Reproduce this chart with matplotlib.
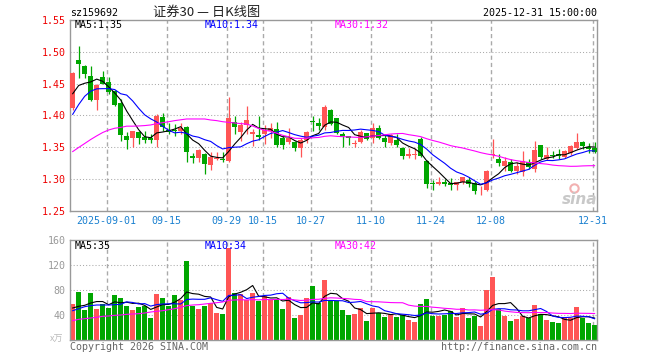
import matplotlib
matplotlib.use('Agg')
import matplotlib.pyplot as plt
import numpy as np
import pandas as pd

# trading days on the chart (national day holiday 10-01..10-08 removed)
days = pd.bdate_range('2025-08-22', '2025-12-31')
days = days[(days < '2025-10-01') | (days > '2025-10-08')]

opens = [1.411, 1.4875, 1.478, 1.4625, 1.424, 1.461, 1.452, 1.439, 1.420, 1.367,
         1.364, 1.374, 1.366, 1.3646, 1.3615, 1.398, 1.3776, 1.3776, 1.3755, 1.382,
         1.336, 1.333, 1.339, 1.322, 1.332, 1.332, 1.3286, 1.390, 1.374, 1.385,
         1.370, 1.3685, 1.3714, 1.3755, 1.378, 1.3646, 1.3573, 1.3583, 1.349, 1.361,
         1.3911, 1.3875, 1.382, 1.409, 1.3953, 1.3714, 1.3672, 1.3547, 1.3588, 1.3719,
         1.3651, 1.3807, 1.364, 1.3563, 1.361, 1.3484, 1.3365, 1.3375, 1.3625, 1.3286,
         1.293, 1.2922, 1.2958, 1.2932, 1.2911, 1.2948, 1.299, 1.2937, 1.2823, 1.2818,
         1.338, 1.3313, 1.3208, 1.326, 1.313, 1.3115, 1.327, 1.3156, 1.3531, 1.3313,
         1.338, 1.339, 1.3349, 1.3401, 1.3479, 1.3583, 1.3495, 1.3479]
highs = [1.468, 1.509, 1.479, 1.477, 1.449, 1.470, 1.461, 1.440, 1.425, 1.374,
         1.376, 1.376, 1.376, 1.370, 1.402, 1.403, 1.3885, 1.387, 1.3885, 1.383,
         1.341, 1.347, 1.340, 1.342, 1.342, 1.342, 1.4286, 1.399, 1.390, 1.4146,
         1.378, 1.399, 1.385, 1.3885, 1.390, 1.3677, 1.3797, 1.360, 1.365, 1.3755,
         1.399, 1.3953, 1.417, 1.4104, 1.3964, 1.374, 1.3677, 1.361, 1.3766, 1.372,
         1.3885, 1.3844, 1.3714, 1.3703, 1.3703, 1.3495, 1.348, 1.348, 1.366, 1.329,
         1.2984, 1.3026, 1.3005, 1.301, 1.295, 1.3036, 1.3036, 1.2974, 1.2896, 1.314,
         1.3625, 1.339, 1.3339, 1.3313, 1.326, 1.3432, 1.3313, 1.3589, 1.3531, 1.3495,
         1.3432, 1.347, 1.3453, 1.3531, 1.3719, 1.360, 1.3563, 1.3573]
lows = [1.408, 1.459, 1.459, 1.422, 1.408, 1.449, 1.433, 1.415, 1.360, 1.347,
        1.350, 1.355, 1.357, 1.356, 1.350, 1.376, 1.370, 1.367, 1.371, 1.327,
        1.325, 1.327, 1.308, 1.314, 1.329, 1.326, 1.326, 1.371, 1.359, 1.370,
        1.352, 1.361, 1.355, 1.365, 1.3495, 1.347, 1.3547, 1.344, 1.335, 1.357,
        1.3755, 1.377, 1.3766, 1.385, 1.371, 1.3495, 1.353, 1.3505, 1.356, 1.361,
        1.357, 1.3625, 1.3495, 1.3536, 1.3495, 1.3313, 1.333, 1.3313, 1.335, 1.286,
        1.2828, 1.2906, 1.2896, 1.2828, 1.283, 1.2922, 1.288, 1.2755, 1.274, 1.2807,
        1.3328, 1.3208, 1.313, 1.3104, 1.3078, 1.305, 1.3156, 1.3104, 1.3313, 1.3297,
        1.3328, 1.3313, 1.3328, 1.338, 1.3469, 1.3469, 1.3406, 1.340]
closes = [1.467, 1.481, 1.465, 1.424, 1.448, 1.450, 1.437, 1.417, 1.369, 1.361,
          1.375, 1.365, 1.362, 1.361, 1.399, 1.382, 1.3745, 1.3755, 1.380, 1.3425,
          1.333, 1.346, 1.3235, 1.334, 1.333, 1.329, 1.396, 1.382, 1.385, 1.392,
          1.374, 1.3667, 1.377, 1.3807, 1.3536, 1.3536, 1.3651, 1.349, 1.361, 1.3745,
          1.390, 1.383, 1.4135, 1.387, 1.3724, 1.3677, 1.364, 1.3568, 1.3745, 1.3635,
          1.3807, 1.364, 1.3588, 1.3693, 1.3536, 1.3365, 1.339, 1.339, 1.3365, 1.2922,
          1.292, 1.2958, 1.2922, 1.2911, 1.2948, 1.3026, 1.2922, 1.2807, 1.2828, 1.313,
          1.339, 1.325, 1.3286, 1.313, 1.3208, 1.3286, 1.3182, 1.3453, 1.3349, 1.338,
          1.336, 1.3365, 1.3443, 1.3521, 1.3573, 1.352, 1.3474, 1.3417]
# volume, 10k lots
volumes = [57.6, 76.8, 48.5, 75.2, 49.6, 57.6, 51.2, 72, 67.2, 54.4,
           48, 52.8, 54.4, 35.2, 73.6, 67.2, 54.4, 72, 64, 126.4,
           54.4, 49.6, 54.4, 59.2, 43.2, 41.6, 148, 75.2, 73.6, 64,
           75.2, 62.4, 70.4, 64, 65.6, 49.6, 68.8, 35.2, 40, 67.2,
           86.4, 60, 96, 64, 62.4, 48, 40, 41.6, 51.2, 30.4,
           51.2, 43.2, 36.8, 41.6, 36.8, 40, 32, 28.8, 57.6, 65.6,
           38.4, 38.4, 40, 46.4, 36.8, 51.2, 35.2, 38.4, 22.4, 80,
           100.8, 49.6, 38.4, 30.4, 33.6, 38.4, 35.2, 56, 41.6, 32,
           28.8, 27.2, 35.2, 35.2, 52.8, 35.2, 28, 24]

ma5_head = [1.434, 1.447, 1.4505, 1.4526]
ma10_head = [1.4016, 1.417, 1.430, 1.438, 1.4417, 1.442, 1.442, 1.4406, 1.434]
ma30_head = [1.343, 1.3495, 1.3557, 1.362, 1.3677, 1.373, 1.377, 1.3797, 1.381, 1.383,
             1.383, 1.3833, 1.3839, 1.3849, 1.387, 1.3885, 1.390, 1.3917, 1.393, 1.3943,
             1.3943, 1.3943, 1.3943, 1.3927, 1.3917, 1.390, 1.389, 1.388, 1.387]
vma5_head = [51.2, 53.9, 55.5, 59.2]
vma10_head = [46.9, 50.1, 53.3, 55, 56, 56, 56, 56.5, 57.1]
vma30_head = [30.9, 33.1, 34.1, 35.2, 36.3, 37.9, 38.4, 39.5, 40, 41.1,
              41.6, 42.1, 43.2, 44.8, 45.9, 46.9, 48.5, 50.1, 52.3, 55,
              56, 56.5, 57.6, 58.7, 59.7, 60.8, 63.5, 64, 64.5]

tick_dates = ['2025-09-01', '2025-09-15', '2025-09-29', '2025-10-15', '2025-10-27',
              '2025-11-10', '2025-11-24', '2025-12-08', '2025-12-31']
tick_labels = ['2025-09-01', '09-15', '09-29', '10-15', '10-27',
               '11-10', '11-24', '12-08', '12-31']

RED = '#ff5555'
GREEN = '#00a600'
GRID = '#aaaaaa'
MONO = 'DejaVu Sans Mono'
W, H = 660, 360


def moving_avg(values, n, head):
    m = pd.Series(values).rolling(n).mean().values
    m[:n - 1] = head
    return m


def fig_xy(x, y):
    # pixel position -> figure fraction
    return x / W, 1 - y / H


x = np.arange(len(closes))
o = np.array(opens); c = np.array(closes)
up = c >= o
colors = [RED if u else GREEN for u in up]
tick_pos = [list(days.strftime('%Y-%m-%d')).index(d) - 0.35 for d in tick_dates]

ma5 = moving_avg(closes, 5, ma5_head)
ma10 = moving_avg(closes, 10, ma10_head)
ma30 = moving_avg(closes, 30, ma30_head)
vma5 = moving_avg(volumes, 5, vma5_head)
vma10 = moving_avg(volumes, 10, vma10_head)
vma30 = moving_avg(volumes, 30, vma30_head)

fig = plt.figure(figsize=(6.6, 3.6), dpi=100)
left, right = 70.3, 597
ax = fig.add_axes([left / W, 1 - 210.7 / H, (right - left) / W, 190.7 / H])
axv = fig.add_axes([left / W, 1 - 340 / H, (right - left) / W, 100 / H])

for a in (ax, axv):
    a.set_xlim(-0.4, 87.4)
    for s in a.spines.values():
        s.set_color('#999999')
        s.set_linewidth(1.0)
    for p in tick_pos:
        a.axvline(p, color=GRID, lw=1.0, ls=(0, (3, 2.2)), zorder=0)
    a.tick_params(length=0)

# candles
ax.vlines(x, lows, highs, colors=colors, lw=0.9, zorder=2)
bodies = np.maximum(np.abs(c - o), 0.0009)
ax.bar(x, bodies, bottom=np.minimum(o, c), width=0.8, color=colors, lw=0, zorder=3)
ax.plot(x, ma5, color='black', lw=0.8, zorder=4)
ax.plot(x, ma10, color='#0000ff', lw=0.8, zorder=4)
ax.plot(x, ma30, color='#ff00ff', lw=0.8, zorder=4)
ax.set_ylim(1.25, 1.55)
for lv in [1.30, 1.35, 1.40, 1.45, 1.50]:
    ax.axhline(lv, color=GRID, lw=0.75, ls=(0, (1, 2)), zorder=0)
ax.set_yticks([1.25, 1.30, 1.35, 1.40, 1.45, 1.50, 1.55])
ax.set_yticklabels(['%.2f' % v for v in ax.get_yticks()], color='#ee0000',
                   fontsize=7.2, family=MONO)
ax.tick_params(axis='y', pad=3.5)
ax.set_xticks(tick_pos)
ax.set_xticklabels(tick_labels, color='#1a80d0', fontsize=7.2, family=MONO)
ax.tick_params(axis='x', pad=4)

# volume
axv.bar(x, volumes, width=0.82, color=colors, lw=0, zorder=2)
axv.plot(x, vma5, color='black', lw=0.8, zorder=3)
axv.plot(x, vma10, color='#0000ff', lw=0.8, zorder=3)
axv.plot(x, vma30, color='#ff00ff', lw=0.8, zorder=3)
axv.set_ylim(0, 160)
for lv in [40, 80, 120]:
    axv.axhline(lv, color=GRID, lw=0.75, ls=(0, (1, 2)), zorder=0)
axv.set_yticks([40, 80, 120, 160])
axv.set_yticklabels(['40', '80', '120', '160'], color='#999999', fontsize=7.2, family=MONO)
axv.tick_params(axis='y', pad=3.5)
axv.set_xticks([])

# header / labels
fig.text(*fig_xy(70, 13), 'sz159692', fontsize=7.2, family=MONO, va='center')
fig.text(*fig_xy(207, 12.5), '证券30 — 日K线图', fontsize=9.5, va='center', ha='center',
         family=['Noto Sans CJK SC', 'DejaVu Sans'], color='#222222')
fig.text(*fig_xy(597, 13), '2025-12-31 15:00:00', fontsize=7.2, family=MONO,
         va='center', ha='right')

legend_y = [(25.5, ma5[-1], ma10[-1], ma30[-1], '%.2f'),
            (246, vma5[-1], vma10[-1], vma30[-1], '%.0f')]
for y, a5, a10, a30, fmt in legend_y:
    fig.text(*fig_xy(75, y), 'MA5:' + fmt % a5, fontsize=7.2, family=MONO, va='center')
    fig.text(*fig_xy(205, y), 'MA10:' + fmt % a10, fontsize=7.2, family=MONO,
             va='center', color='#0000ff')
    fig.text(*fig_xy(335, y), 'MA30:' + fmt % a30, fontsize=7.2, family=MONO,
             va='center', color='#ff00ff')

fig.text(*fig_xy(63, 339.5), 'x万', fontsize=6.5, color='#bbbbbb', ha='right', va='center',
         family=['Noto Sans CJK SC', 'DejaVu Sans'])
fig.text(*fig_xy(70, 347), 'Copyright 2026 SINA.COM', fontsize=7.2, family=MONO,
         va='center', color='#666666')
fig.text(*fig_xy(597, 347), 'http://finance.sina.com.cn', fontsize=7.2, family=MONO,
         va='center', ha='right', color='#666666')

# sina watermark (eye mark drawn as a marker, text below it)
fig.text(*fig_xy(597, 200), 'sina', fontsize=11, fontweight='bold', fontstyle='italic',
         color='#c8c8c8', ha='right', va='center')
ax.plot([83.5], [1.286], marker='o', ms=6, mfc='none', mec='#f2b0b0', mew=1.5,
        clip_on=False, zorder=1)

fig.savefig('out.png', dpi=100)
